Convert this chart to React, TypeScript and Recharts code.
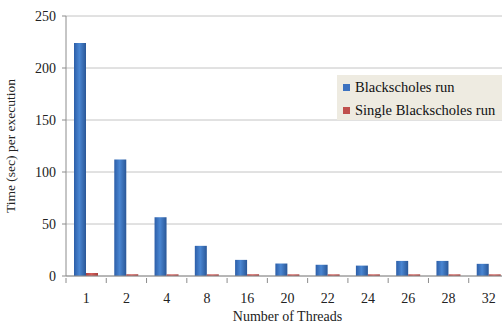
import React from "react";
import { BarChart, Bar, XAxis, YAxis, CartesianGrid, Label } from "recharts";

const threads = ["1", "2", "4", "8", "16", "20", "22", "24", "26", "28", "32"];
const blackscholesRun = [224, 112, 56.5, 29, 15.5, 12, 10.8, 10, 14.5, 14.5, 11.7];
const singleBlackscholesRun = [2.9, 1.6, 1.6, 1.6, 1.6, 1.6, 1.6, 1.6, 1.6, 1.6, 1.6];
const yTicks = [0, 50, 100, 150, 200, 250];
const seriesNames = ["Blackscholes run", "Single Blackscholes run"];
const seriesColors = ["#3c72c0", "#c0504d"];

const data = threads.map((t, i) => ({
  threads: t,
  run: blackscholesRun[i],
  single: singleBlackscholesRun[i],
}));

const font = "Liberation Serif, Times New Roman, serif";

const XTick = (props: any) => {
  const { x, y, payload, index } = props;
  const off = payload.offset || 0;
  return (
    <g>
      <line x1={x - off} x2={x - off} y1={y} y2={y + 5} stroke="#8c8c8c" />
      {index === threads.length - 1 && (
        <line x1={x + off} x2={x + off} y1={y} y2={y + 5} stroke="#8c8c8c" />
      )}
      <text x={x} y={y + 25} textAnchor="middle" fontFamily={font} fontSize={14} fill="#222">
        {payload.value}
      </text>
    </g>
  );
};

const LegendBox = () => (
  <div
    style={{
      position: "absolute",
      left: 337,
      top: 75,
      background: "#eeebe1",
      width: 170,
      height: 45,
      fontFamily: font,
      fontSize: 14.5,
      color: "#111",
      paddingTop: 1,
      boxSizing: "border-box",
      whiteSpace: "nowrap",
    }}
  >
    {seriesNames.map((name, i) => (
      <div key={name} style={{ display: "flex", alignItems: "center", height: 23, paddingLeft: 6 }}>
        <span style={{ width: 7, height: 7, background: seriesColors[i], marginRight: 5, display: "inline-block" }} />
        <span>{name}</span>
      </div>
    ))}
  </div>
);

export default function App() {
  return (
    <div style={{ position: "absolute", left: 0, top: 0, width: 502, height: 327, overflow: "hidden", background: "#fff" }}>
      <BarChart
        width={512}
        height={327}
        data={data}
        margin={{ top: 16, right: 3, bottom: 0, left: 0 }}
        barGap={0}
        barCategoryGap={8}
      >
        <defs>
          <linearGradient id="blueGrad" x1="0" y1="0" x2="1" y2="0">
            <stop offset="0%" stopColor="#2c5ea8" />
            <stop offset="45%" stopColor="#4a86d2" />
            <stop offset="100%" stopColor="#2a5797" />
          </linearGradient>
          <linearGradient id="redGrad" x1="0" y1="0" x2="1" y2="0">
            <stop offset="0%" stopColor="#b04441" />
            <stop offset="45%" stopColor="#d2605c" />
            <stop offset="100%" stopColor="#a83f3c" />
          </linearGradient>
        </defs>
        <CartesianGrid vertical={false} stroke="#c4c4c4" />
        <XAxis
          dataKey="threads"
          height={51}
          axisLine={{ stroke: "#8c8c8c" }}
          tickLine={false}
          tick={<XTick />}
          tickSize={0}
          interval={0}
        >
          <Label value="Number of Threads" position="insideBottom" offset={6} style={{ fontFamily: font, fontSize: 14, fill: "#222" }} />
        </XAxis>
        <YAxis
          domain={[0, 250]}
          ticks={yTicks}
          width={66}
          axisLine={{ stroke: "#8c8c8c" }}
          tickLine={{ stroke: "#8c8c8c" }}
          tickSize={4}
          tick={{ fontFamily: font, fontSize: 14, fill: "#222" }}
          tickMargin={6}
        >
          <Label
            value="Time (sec) per execution"
            angle={-90}
            position="insideLeft"
            offset={10}
            style={{ textAnchor: "middle", fontFamily: font, fontSize: 13.5, fill: "#222" }}
          />
        </YAxis>
        <Bar dataKey="run" name={seriesNames[0]} fill="url(#blueGrad)" barSize={12} isAnimationActive={false} />
        <Bar dataKey="single" name={seriesNames[1]} fill="url(#redGrad)" barSize={12} isAnimationActive={false} />
      </BarChart>
      <LegendBox />
    </div>
  );
}
